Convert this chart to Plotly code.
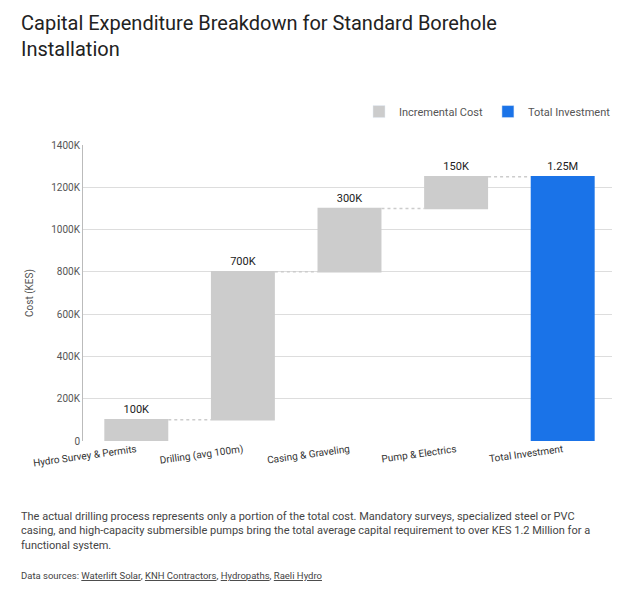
import plotly.graph_objects as go

categories = ["Hydro Survey & Permits", "Drilling (avg 100m)", "Casing & Graveling", "Pump & Electrics", "Total Investment"]
values = [100000, 700000, 300000, 150000, 0]
measures = ["relative", "relative", "relative", "relative", "total"]
labels = ["100K", "700K", "300K", "150K", "1.25M"]
tickvals = [0, 200000, 400000, 600000, 800000, 1000000, 1200000, 1400000]
ticktext = ["0", "200K", "400K", "600K", "800K", "1000K", "1200K", "1400K"]

GREY = "#cccccc"
BLUE = "#1a73e8"
font = "Roboto"

fig = go.Figure()
fig.add_trace(go.Waterfall(
    x=categories, y=values, measure=measures, text=labels, textposition="outside",
    textfont=dict(size=11, color="#222", family=font),
    increasing=dict(marker=dict(color=GREY)), decreasing=dict(marker=dict(color=GREY)),
    totals=dict(marker=dict(color=BLUE)),
    connector=dict(line=dict(color="#cccccc", dash="dot", width=1.5)),
    width=0.6, showlegend=False, hoverinfo="skip", cliponaxis=False))
for name, c in [("Incremental Cost", GREY), ("Total Investment", BLUE)]:
    fig.add_trace(go.Bar(x=[None], y=[None], name=name, marker_color=c, showlegend=True))

fig.update_layout(
    width=620, height=594, paper_bgcolor="white", plot_bgcolor="white",
    font=dict(family=font, color="#444", size=10),
    margin=dict(l=75, r=12, t=137, b=161),
    legend=dict(orientation="h", x=1, xanchor="right", y=1.162, yanchor="top",
                font=dict(size=11, color="#555")),
    xaxis=dict(tickangle=-8, tickfont=dict(size=10, color="#333"), showline=False, ticks=""),
    yaxis=dict(range=[0, 1400000], tickvals=tickvals, ticktext=ticktext, gridcolor="#dddddd",
               showline=True, linecolor="#bbbbbb", zeroline=False, tickfont=dict(size=10, color="#555"),
               title=dict(text="Cost (KES)", font=dict(size=10, color="#555")), ticklen=8, tickcolor="white"),
    bargap=0.4,
)
fig.add_annotation(xref="paper", yref="paper", x=-0.12, y=1.46, xanchor="left", yanchor="top", align="left",
    showarrow=False, font=dict(size=20, color="#222", family=font),
    text="Capital Expenditure Breakdown for Standard Borehole<br>Installation")
fig.add_annotation(xref="paper", yref="paper", x=-0.12, y=-0.225, xanchor="left", yanchor="top", align="left",
    showarrow=False, font=dict(size=11, color="#444", family=font),
    text="The actual drilling process represents only a portion of the total cost. Mandatory surveys, specialized steel or PVC<br>casing, and high-capacity submersible pumps bring the total average capital requirement to over KES 1.2 Million for a<br>functional system.")
fig.add_annotation(xref="paper", yref="paper", x=-0.12, y=-0.43, xanchor="left", yanchor="top", align="left",
    showarrow=False, font=dict(size=9.5, color="#444", family=font),
    text="Data sources: <u>Waterlift Solar</u>, <u>KNH Contractors</u>, <u>Hydropaths</u>, <u>Raeli Hydro</u>")
fig.write_html("out.html")
